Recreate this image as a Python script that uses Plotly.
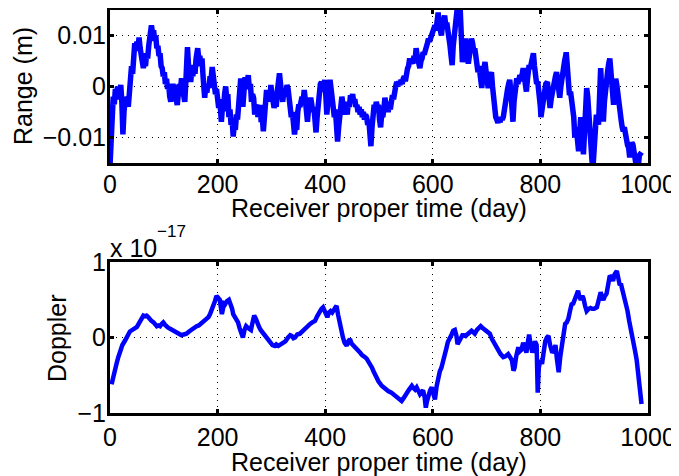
import numpy as np
import plotly.graph_objects as go

# ---------------- data ----------------
# Top panel: range residual, in millimetres (plotted in metres)
days_r = [0, 2, 4, 6, 8, 10, 12, 14, 16, 18, 20, 22, 24, 26, 28, 30, 32, 34, 36, 38,
          40, 42, 44, 46, 48, 50, 52, 54, 56, 58, 60, 62, 64, 66, 68, 70, 72, 74, 76, 77,
          79, 81, 83, 85, 87, 89, 91, 93, 95, 97, 99, 101, 103, 105, 107, 109, 111, 113, 115, 117,
          119, 121, 123, 125, 127, 129, 131, 133, 135, 137, 139, 141, 143, 144, 146, 148, 150, 152, 154, 156,
          158, 160, 162, 163, 165, 167, 169, 171, 173, 175, 176, 178, 180, 182, 184, 186, 188, 190, 192, 194,
          196, 198, 200, 202, 204, 206, 207, 209, 211, 213, 215, 217, 219, 221, 223, 225, 227, 229, 231, 233,
          235, 237, 239, 241, 243, 245, 247, 249, 251, 253, 255, 257, 259, 261, 263, 265, 267, 269, 271, 273,
          275, 277, 279, 281, 283, 285, 287, 289, 291, 293, 295, 297, 299, 301, 303, 305, 307, 309, 311, 313,
          315, 317, 319, 321, 323, 325, 327, 329, 331, 333, 335, 337, 339, 341, 343, 345, 347, 349, 351, 353,
          355, 357, 359, 361, 363, 365, 367, 369, 371, 373, 375, 377, 379, 381, 383, 385, 387, 389, 391, 393,
          395, 397, 399, 401, 403, 405, 407, 409, 411, 413, 415, 417, 419, 421, 423, 425, 427, 429, 431, 433,
          435, 437, 439, 441, 443, 445, 447, 449, 451, 453, 455, 457, 459, 461, 463, 465, 467, 469, 471, 473,
          475, 477, 479, 481, 483, 485, 487, 489, 491, 493, 495, 497, 499, 501, 503, 505, 507, 509, 511, 513,
          515, 517, 519, 521, 523, 525, 527, 529, 531, 533, 535, 537, 539, 541, 543, 545, 547, 549, 551, 553,
          555, 557, 559, 561, 563, 565, 567, 569, 571, 573, 575, 576, 578, 580, 582, 584, 586, 588, 590, 592,
          594, 596, 598, 600, 602, 604, 606, 608, 610, 612, 614, 616, 618, 620, 622, 624, 626, 628, 630, 632,
          634, 636, 638, 640, 641, 643, 645, 647, 649, 651, 653, 655, 657, 659, 661, 663, 665, 666, 668, 670,
          672, 674, 676, 678, 680, 682, 684, 686, 688, 690, 691, 693, 695, 697, 699, 701, 703, 705, 707, 709,
          711, 713, 715, 717, 719, 721, 723, 725, 727, 729, 731, 733, 735, 737, 739, 741, 743, 745, 747, 749,
          751, 753, 755, 756, 758, 760, 762, 764, 766, 768, 770, 772, 774, 776, 778, 779, 781, 783, 785, 787,
          789, 791, 793, 795, 796, 798, 800, 801, 803, 805, 806, 808, 810, 813, 815, 817, 818, 820, 822, 824,
          826, 828, 830, 832, 834, 836, 838, 840, 843, 845, 847, 848, 850, 852, 854, 856, 858, 861, 862, 864,
          866, 868, 870, 871, 873, 875, 877, 879, 880, 882, 884, 886, 888, 889, 891, 893, 895, 896, 898, 900,
          902, 904, 906, 908, 910, 912, 914, 916, 917, 919, 921, 923, 925, 927, 929, 931, 933, 935, 936, 938,
          940, 942, 944, 946, 948, 950, 952, 954, 956, 958, 960, 962, 964, 966, 968, 970, 972, 974, 976, 978,
          980, 982, 984, 986, 988]
range_mm = [-15.5, -8, -4.5, -2, -3.5, -0.5, -2, 0, -2.5, -1, 0.3, -3, -9.4, -5, -2.5, -3.5, -2, -4, -1.5, 1.5,
            4, 2.5, 6.5, 8.5, 7, 8.8, 7.5, 9.6, 7.5, 5.5, 4.5, 3.6, 5, 4, 6.5, 5.5, 8, 9.5, 11, 12,
            10.5, 11, 9, 10, 7.5, 8, 6, 6.5, 4, 3.6, 2, 2.8, 0.5, 1.5, -0.5, 0.5, -2, -3, -1, 0.5,
            -0.5, 0.3, -2.5, -3.6, -1.5, 0.5, -0.5, 1.6, -0.5, -2, -3, 1, 6, 7.7, 4, 2.5, 0.9, 3, 2, 4.2,
            2.5, 5.5, 6.5, 7.5, 5.5, 6, 4, 5.5, 2, -1, -2.2, 0, -1.2, 0.5, -0.3, 2, 1.5, 3.8, 1.5, 0.5,
            -1.5, -0.5, -3, -4.2, -2.5, -5.5, -6.9, -4, -4.8, -1.5, 0, -2.5, -1.5, -6, -4.5, -7.5, -6.5, -9.8, -7.5, -8.5,
            -5.5, -6.5, -3, -0.5, 1.6, -1, -4, -1, 1.8, -0.5, 0.5, 2.2, -0.5, 0.5, -3, -1.5, -2.3, -5.5, -4, -3.6,
            -6, -4.5, -3.6, -7, -6, -8.8, -5, -2, -0.7, -2, -1, -3, 0.3, -1.5, -2.5, -4.2, -3, -4, -1, 1,
            2.6, 0.5, -1, -3, -1, -0.5, -2, 0.3, -0.5, -3, -4.5, -6, -5, -7, -9.4, -7.5, -8.5, -5, -3.5, -4,
            -2.5, -2, -3, -0.7, -2.5, -4.5, -6.9, -4.5, -3, -2.2, -3.5, -5, -4, -6.5, -9, -6, -3, -1.5, 0.5, 0.9,
            -1, 0, 1.3, -1.5, -5.5, -3, -1, 1.3, -0.5, -3.5, -5, -6, -4.5, -7, -10.8, -8, -5.5, -4, -2, -3.5,
            -3, -5.5, -4, -5.5, -3, -4, -1.7, -2.5, -1.5, -3, -2.5, -4, -3.6, -5, -4, -5.5, -4.5, -6, -5, -6.5,
            -5.5, -6, -7.5, -6.5, -9, -11.7, -8, -5.5, -3.6, -4.5, -3, -4, -3.6, -6.5, -8, -5.5, -6, -4.5, -2.2, -3.5,
            -3, -5, -3.5, -4.5, -2, -1.7, -2.5, -0.5, 0, 0.9, 0, 1, 0.3, 1.3, 0.5, 1.5, 2, 1, 2.8, 3.5,
            4, 5.5, 4.5, 5, 4.5, 6, 5, 7.5, 6, 5, 4, 3.6, 5, 5.5, 6.7, 6.3, 7, 7.5, 8.5, 9.4,
            8.8, 9.5, 10, 10.6, 11.5, 12, 11, 13, 14.5, 12, 10.5, 10, 12, 13, 13.9, 12, 12.5, 11, 10, 8,
            6, 4.2, 8, 11, 12, 13.5, 14.9, 15.2, 14.5, 15, 10, 4.8, 6, 8, 9.4, 7, 5, 4.5, 6, 8,
            9.4, 8.5, 7, 7.5, 5, 4, 2.8, 4, 2, 0, -0.3, 2, 4, 4.8, 3, 1, -0.3, 1.5, 2, 2.8,
            0, -2.5, -5, -6, -6.5, -7.1, -6.5, -7, -6, -6.5, -6, -4, -2, -1.7, -0.5, 0.5, 1.3, -1, -4, -6.9,
            -3, -1, 0.5, 1.6, 0.5, 1.5, 2.2, 1, 2.5, 3.6, 2, 0.5, -1, 1.5, 3.5, 4.2, 3.5, 5, 5.5, 6.5,
            4, 2, 0.5, 1, 0.3, -2, -4, -6, -4.5, -2.5, -1, 0, 0.5, 0.9, -1.5, -3, -4.2, -2.5, -1, 0.2,
            1.5, 2, 2.8, 1, -0.5, -2.2, 0, 2, 4.2, 5, 6, 6.7, 4, 2, -1.7, -1, -2.5, -3.6, -6, -10,
            -8, -9.5, -11, -12.7, -9, -6, -8.5, -11, -13.3, -9, -4, -0.3, -2, -4, -5.5, -9, -13, -14.7, -15.5, -12,
            -6, -5.5, -6.5, -7.5, -2, 3.6, -1, -5, -6.9, -3, 0, 2.2, 3, 4.5, 5.5, 3, 0, -2, -3.6, -1,
            1.5, 0.3, -2, -4, -6, -6.5, -8, -8.8, -8, -9.5, -10, -11.5, -12, -13.9, -12, -11, -11.4, -13, -14, -15.5,
            -14.7, -15.5, -13.5, -12.9, -12.9]

# Bottom panel: Doppler residual, in units of 1e-17
days_d = [3, 5, 8, 12, 15, 19, 23, 28, 31, 34, 37, 40, 44, 48, 50, 53, 56, 59, 62, 65,
          68, 71, 74, 77, 81, 84, 87, 90, 93, 96, 99, 102, 105, 108, 111, 114, 118, 123, 128, 133,
          137, 142, 147, 152, 156, 161, 165, 170, 174, 179, 183, 186, 189, 192, 195, 198, 201, 204, 206, 208,
          210, 212, 214, 217, 221, 224, 227, 229, 232, 235, 238, 241, 244, 247, 250, 253, 256, 259, 262, 265,
          268, 271, 274, 277, 280, 283, 286, 290, 294, 298, 302, 306, 309, 313, 317, 322, 326, 331, 335, 338,
          341, 344, 348, 353, 357, 362, 367, 372, 376, 381, 385, 390, 393, 396, 399, 402, 404, 407, 410, 413,
          417, 421, 424, 427, 430, 433, 436, 440, 443, 446, 449, 452, 455, 458, 461, 465, 468, 471, 474, 477,
          480, 484, 487, 490, 494, 499, 505, 511, 517, 523, 530, 536, 542, 546, 549, 551, 555, 558, 561, 564,
          567, 570, 573, 576, 579, 582, 585, 587, 589, 592, 595, 598, 601, 604, 607, 610, 613, 616, 619, 622,
          625, 628, 631, 635, 638, 641, 644, 646, 649, 652, 655, 658, 661, 664, 668, 672, 675, 678, 682, 686,
          689, 692, 695, 698, 702, 706, 710, 714, 718, 722, 726, 731, 735, 740, 744, 747, 750, 752, 755, 759,
          762, 765, 768, 771, 774, 777, 779, 782, 785, 788, 790, 793, 795, 797, 800, 803, 806, 809, 812, 815,
          818, 822, 825, 828, 831, 834, 837, 840, 843, 846, 849, 852, 855, 858, 861, 864, 867, 870, 872, 875,
          878, 880, 883, 886, 890, 893, 896, 900, 905, 908, 912, 915, 917, 920, 923, 926, 929, 932, 935, 938,
          942, 945, 947, 950, 953, 956, 959, 962, 965, 968, 971, 974, 976, 979, 981, 983, 985, 987, 988]
doppler_e17 = [-0.62, -0.57, -0.5, -0.35, -0.27, -0.18, -0.1, -0.04, 0.02, 0.04, 0.08, 0.09, 0.11, 0.13, 0.14, 0.18, 0.22, 0.25, 0.29, 0.28,
               0.29, 0.27, 0.24, 0.22, 0.2, 0.17, 0.15, 0.16, 0.15, 0.18, 0.2, 0.17, 0.14, 0.13, 0.12, 0.11, 0.09, 0.07, 0.05, 0.03,
               0.04, 0.05, 0.08, 0.11, 0.12, 0.15, 0.16, 0.19, 0.2, 0.24, 0.27, 0.31, 0.36, 0.42, 0.48, 0.55, 0.53, 0.5, 0.4, 0.31,
               0.38, 0.45, 0.44, 0.48, 0.5, 0.45, 0.38, 0.31, 0.27, 0.24, 0.2, 0.12, 0.05, 0.0, 0.1, 0.15, 0.13, 0.12, 0.1, 0.2,
               0.29, 0.25, 0.18, 0.14, 0.1, 0.07, 0.04, 0.0, -0.04, -0.07, -0.1, -0.11, -0.09, -0.11, -0.09, -0.08, -0.05, 0.0, 0.03, 0.02,
               -0.01, 0.0, 0.04, 0.05, 0.08, 0.11, 0.14, 0.18, 0.2, 0.22, 0.28, 0.35, 0.38, 0.4, 0.35, 0.3, 0.27, 0.33, 0.35, 0.33,
               0.38, 0.42, 0.3, 0.18, 0.08, 0.0, -0.07, -0.11, -0.05, -0.02, -0.08, -0.1, -0.13, -0.16, -0.18, -0.2, -0.23, -0.24, -0.26, -0.28,
               -0.31, -0.36, -0.4, -0.45, -0.52, -0.58, -0.64, -0.68, -0.71, -0.73, -0.77, -0.79, -0.84, -0.8, -0.76, -0.73, -0.7, -0.67, -0.64, -0.67,
               -0.69, -0.66, -0.72, -0.75, -0.72, -0.7, -0.8, -0.93, -0.85, -0.74, -0.7, -0.66, -0.75, -0.82, -0.65, -0.53, -0.45, -0.4, -0.33, -0.26,
               -0.15, -0.06, 0.0, 0.04, 0.09, 0.1, 0.02, -0.09, -0.05, 0.0, 0.03, 0.03, 0.02, 0.04, 0.06, 0.09, 0.07, 0.05, 0.1, 0.13,
               0.15, 0.13, 0.11, 0.1, 0.08, 0.05, -0.02, -0.07, -0.13, -0.18, -0.22, -0.26, -0.25, -0.22, -0.26, -0.3, -0.44, -0.4, -0.25, -0.13,
               -0.18, -0.16, -0.07, -0.12, -0.2, -0.05, 0.04, -0.1, -0.2, -0.12, -0.05, -0.1, -0.73, -0.4, -0.3, -0.35, -0.15, -0.05, 0.0, 0.02,
               -0.1, -0.2, -0.17, -0.1, -0.3, -0.46, -0.25, -0.1, 0.05, 0.18, 0.2, 0.25, 0.35, 0.44, 0.45, 0.5, 0.55, 0.62, 0.55, 0.5,
               0.55, 0.52, 0.42, 0.35, 0.38, 0.39, 0.38, 0.38, 0.4, 0.48, 0.6, 0.52, 0.5, 0.55, 0.58, 0.7, 0.82, 0.8, 0.75, 0.84,
               0.88, 0.78, 0.71, 0.7, 0.62, 0.55, 0.44, 0.35, 0.22, 0.12, 0.04, -0.1, -0.18, -0.3, -0.42, -0.55, -0.66, -0.72, -0.88]

x_ticks = [0, 200, 400, 600, 800, 1000]
range_ticks = [-0.01, 0, 0.01]
range_ticktext = ["−0.01", "0", "0.01"]
doppler_ticks = [-1, 0, 1]
doppler_ticktext = ["−1", "0", "1"]
x_title = "Receiver proper time (day)"
range_title = "Range (m)"
doppler_title = "Doppler"
exponent_base = "x 10"
exponent_power = "−17"

# ---------------- figure ----------------
OFF = 8                      # page body margin in the browser
W, H = 679 - OFF, 476 - OFF  # figure size so that it fits the window
FONT = "Liberation Sans, Arial, Helvetica, sans-serif"
FS = 25
BLUE = "#0000ff"

def px_x(px):   # screen pixel -> paper fraction
    return (px - OFF) / W

def px_y(py):
    return 1 - (py - OFF) / H

fig = go.Figure()
fig.add_trace(go.Scatter(x=days_r, y=np.array(range_mm) / 1000.0, mode="lines",
                         line=dict(color=BLUE, width=5.5), xaxis="x", yaxis="y",
                         showlegend=False, hoverinfo="skip"))
fig.add_trace(go.Scatter(x=days_d, y=doppler_e17, mode="lines",
                         line=dict(color=BLUE, width=4.5), xaxis="x2", yaxis="y2",
                         showlegend=False, hoverinfo="skip"))

common = dict(showline=True, linecolor="black", linewidth=3, mirror="ticks",
              ticks="inside", ticklen=4, tickwidth=3, tickcolor="black",
              showgrid=True, gridcolor="black", gridwidth=1, griddash="1px,5px",
              zeroline=False, automargin=False,
              tickfont=dict(family=FONT, size=FS, color="black"))

xdom = [px_x(110), px_x(648)]
fig.update_layout(
    width=W, height=H,
    margin=dict(l=0, r=0, t=0, b=0),
    paper_bgcolor="white", plot_bgcolor="white",
    font=dict(family=FONT, size=FS, color="black"),
    xaxis=dict(domain=xdom, anchor="y", range=[0, 1000], tickvals=x_ticks,
               ticklabelstandoff=-3, **common),
    yaxis=dict(domain=[px_y(163), px_y(10)], anchor="x", range=[-0.015, 0.015],
               tickvals=range_ticks, ticktext=range_ticktext, ticklabelstandoff=-4, **common),
    xaxis2=dict(domain=xdom, anchor="y2", range=[0, 1000], tickvals=x_ticks,
                ticklabelstandoff=0, **common),
    yaxis2=dict(domain=[px_y(413), px_y(262)], anchor="x2", range=[-1, 1],
                tickvals=doppler_ticks, ticktext=doppler_ticktext, ticklabelstandoff=-4, **common),
)

ann_font = dict(family=FONT, size=FS, color="black")
fig.add_annotation(text=x_title, xref="paper", yref="paper", x=px_x(379), y=px_y(208),
                   xanchor="center", yanchor="middle", showarrow=False, font=ann_font)
fig.add_annotation(text=x_title, xref="paper", yref="paper", x=px_x(379), y=px_y(462),
                   xanchor="center", yanchor="middle", showarrow=False, font=ann_font)
fig.add_annotation(text=range_title, xref="paper", yref="paper", x=px_x(23), y=px_y(86),
                   xanchor="center", yanchor="middle", textangle=-90, showarrow=False, font=ann_font)
fig.add_annotation(text=doppler_title, xref="paper", yref="paper", x=px_x(57), y=px_y(338),
                   xanchor="center", yanchor="middle", textangle=-90, showarrow=False, font=ann_font)
fig.add_annotation(text=exponent_base, xref="paper", yref="paper", x=px_x(108), y=px_y(248),
                   xanchor="left", yanchor="middle", showarrow=False, font=ann_font)
fig.add_annotation(text=exponent_power, xref="paper", yref="paper", x=px_x(155), y=px_y(231),
                   xanchor="left", yanchor="middle", showarrow=False,
                   font=dict(family=FONT, size=17, color="black"))

fig.write_html("out.html")
